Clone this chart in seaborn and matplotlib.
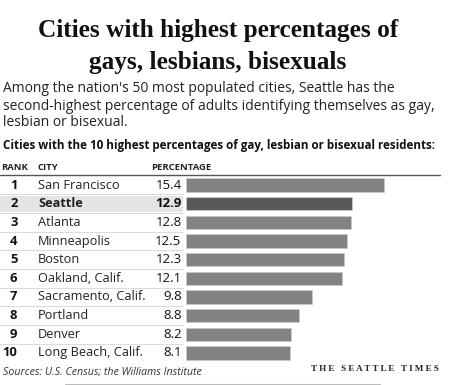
import matplotlib
matplotlib.use("Agg")
import matplotlib.pyplot as plt
import matplotlib.transforms as mtransforms
from matplotlib.lines import Line2D
from matplotlib.patches import Rectangle
import seaborn as sns
import pandas as pd

ranks = [1, 2, 3, 4, 5, 6, 7, 8, 9, 10]
cities = ["San Francisco", "Seattle", "Atlanta", "Minneapolis", "Boston",
          "Oakland, Calif.", "Sacramento, Calif.", "Portland", "Denver",
          "Long Beach, Calif."]
pct = [15.4, 12.9, 12.8, 12.5, 12.3, 12.1, 9.8, 8.8, 8.2, 8.1]
highlight_city = "Seattle"

title_lines = ["Cities with highest percentages of", "gays, lesbians, bisexuals"]
subtitle_lines = ["Among the nation's 50 most populated cities, Seattle has the",
                  "second-highest percentage of adults identifying themselves as gay,",
                  "lesbian or bisexual."]
chart_label = "Cities with the 10 highest percentages of gay, lesbian or bisexual residents:"
headers = ["RANK", "CITY", "PERCENTAGE"]
source = "Sources: U.S. Census; the Williams Institute"
credit = "T H E   S E A T T L E   T I M E S"

sns.set_style("white")
plt.rcParams["font.family"] = ["Open Sans", "DejaVu Sans"]

W, H = 450, 385
fig = plt.figure(figsize=(W / 100, H / 100), dpi=100)
fig.patch.set_facecolor("white")

def fx(px):
    return px / W

def fy(py):
    return 1 - py / H

# bar axes
top_px, bot_px = 175.67, 362.33
ax = fig.add_axes([fx(186), fy(bot_px), fx(440) - fx(186), (bot_px - top_px) / H])
ax.set_facecolor("none")

df = pd.DataFrame({"city": cities, "pct": pct})
colors = ["#585858" if c == highlight_city else "#838383" for c in cities]
sns.barplot(data=df, x="pct", y="city", hue="city", palette=colors,
            orient="h", width=0.72, legend=False, ax=ax,
            edgecolor="#c8c8c8", linewidth=0.6, saturation=1)
ax.set_xlim(0, 254 / 12.86)
ax.set_ylim(9.5, -0.5)
ax.axis("off")

bt = mtransforms.blended_transform_factory(fig.transFigure, ax.transData)

# highlight row
hi = cities.index(highlight_city)
fig.patches.append(Rectangle((0, hi - 0.42), fx(183), 0.84, transform=bt,
                             facecolor="#e4e4e4", edgecolor="none", zorder=0))

# row separators
for i in range(len(cities) - 1):
    fig.add_artist(Line2D([0, fx(183)], [i + 0.5, i + 0.5], transform=bt,
                          color="#dcdcdc", lw=0.8))

# row texts
for i, (r, c, p) in enumerate(zip(ranks, cities, pct)):
    fig.text(fx(17.5), i, str(r), transform=bt, ha="right", va="center",
             fontsize=9.4, fontweight="bold", color="#111111")
    fig.text(fx(38), i, c, transform=bt, ha="left", va="center",
             fontsize=9.2, color="#222222",
             fontweight="bold" if c == highlight_city else "normal")
    fig.text(fx(181.5), i, f"{p:.1f}", transform=bt, ha="right", va="center",
             fontsize=9.5, color="#111111",
             fontweight="bold" if c == highlight_city else "normal")

# header
hdr_x = [1, 38, 151]
for hx, h in zip(hdr_x, headers):
    fig.text(fx(hx), fy(168), h, ha="left", va="center", fontsize=6.8,
             fontweight="bold", color="#222222")
fig.add_artist(Line2D([0, fx(440)], [fy(174.5), fy(174.5)], transform=fig.transFigure,
                      color="#555555", lw=1.0))

# titles
for ty, t in zip([30, 62], title_lines):
    fig.text(fx(218), fy(ty), t, ha="center", va="center", fontsize=18.2,
             fontweight="bold", family=["Liberation Serif", "DejaVu Serif"],
             color="#111111")
for sy, s in zip([88, 106, 123], subtitle_lines):
    fig.text(fx(3), fy(sy), s, ha="left", va="center", fontsize=10,
             color="#222222")
fig.text(fx(3), fy(146), chart_label, ha="left", va="center", fontsize=8.4,
         fontweight="bold", color="#111111")

# footer
fig.text(fx(3), fy(372), source, ha="left", va="center", fontsize=7.7,
         style="italic", color="#333333")
fig.text(fx(439), fy(369), credit, ha="right", va="center", fontsize=6.5,
         fontweight="bold", family=["Liberation Serif", "DejaVu Serif"],
         color="#222222")
fig.add_artist(Line2D([fx(65), fx(380)], [fy(383.5), fy(383.5)],
                      transform=fig.transFigure, color="#bbbbbb", lw=0.8))

fig.savefig("out.png", dpi=100, facecolor="white")
